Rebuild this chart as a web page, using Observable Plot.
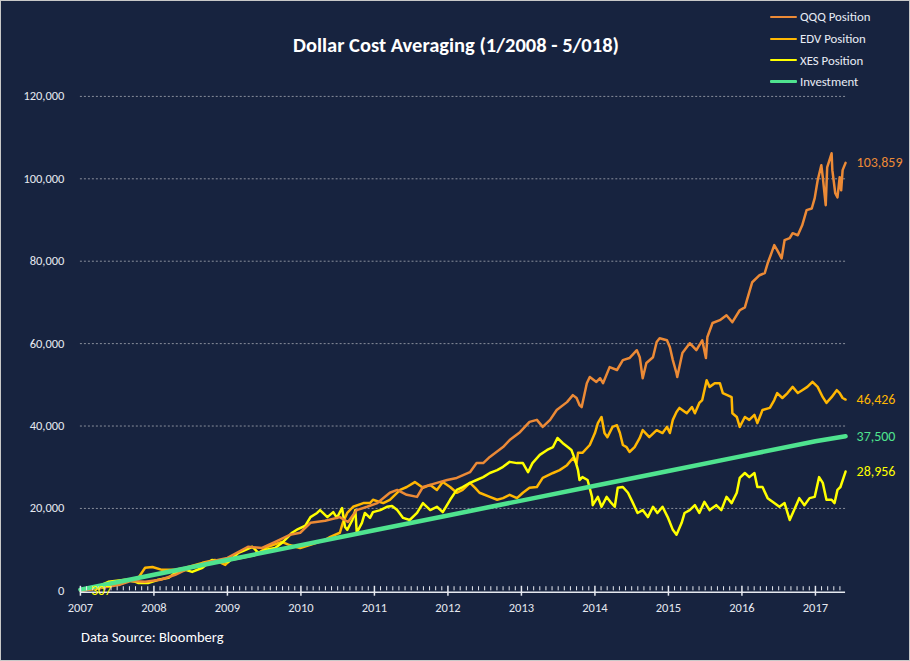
<!DOCTYPE html>
<html>
<head>
<meta charset="utf-8">
<script src="https://cdn.jsdelivr.net/npm/d3@7"></script>
<script src="https://cdn.jsdelivr.net/npm/@observablehq/plot@0.6"></script>
<style>
  html, body { margin: 0; padding: 0; background: #17233f; }
  #wrap { position: relative; width: 910px; height: 661px; box-sizing: border-box; border: 1px solid #c8c8c8; background: #17233f; overflow: hidden; font-family: Carlito, Lato, "Open Sans", sans-serif; }
  #chart { position: absolute; left: -1px; top: -1px; }
  #title { position: absolute; left: 0; width: 910px; top: 31px; text-align: center; color: #ffffff; font-weight: bold; font-size: 20.5px; }
  #legend { position: absolute; left: 769px; top: 5px; color: #e8ecf5; font-size: 12.8px; }
  .row { display: flex; align-items: center; height: 21.7px; }
  .sw { width: 27px; margin-right: 3px; border-radius: 1px; }
  #caption { position: absolute; left: 80px; top: 627px; color: #ffffff; font-size: 14.5px; }
</style>
</head>
<body>
<div id="wrap">
  <div id="chart"></div>
  <div id="title">Dollar Cost Averaging (1/2008 - 5/018)</div>
  <div id="legend"></div>
  <div id="caption">Data Source: Bloomberg</div>
</div>
<script>
// ---------- DATA (decimal year, dollars) ----------
const seriesNames = ["QQQ Position", "EDV Position", "XES Position", "Investment"];
const seriesColors = ["#ec8a36", "#ffb703", "#ffff00", "#4fe38f"];
const endLabels = ["103,859", "46,426", "28,956", "37,500"];
const yearTicks = [2007, 2008, 2009, 2010, 2011, 2012, 2013, 2014, 2015, 2016, 2017];
const yTicks = [0, 20000, 40000, 60000, 80000, 100000, 120000];
const startLabel = "307";

const qqq = [
[2007.00,0],[2007.27,700],[2007.54,1500],[2007.68,2400],[2007.88,2200],[2008.09,2700],[2008.29,3900],[2008.43,5100],
[2008.74,7000],[2009.00,8000],[2009.28,10700],[2009.47,10400],[2009.65,11900],[2009.85,13600],[2009.99,14100],
[2010.13,16500],[2010.33,17000],[2010.53,17900],[2010.64,16700],[2010.76,19600],[2010.90,20400],[2011.04,21300],
[2011.21,23800],[2011.31,24500],[2011.44,23300],[2011.58,22800],[2011.66,25200],[2011.85,26200],[2011.99,26900],
[2012.12,27400],[2012.30,28800],[2012.39,31000],[2012.48,31000],[2012.57,32500],[2012.75,34900],[2012.84,36600],
[2012.98,38500],[2013.11,41000],[2013.21,41500],[2013.29,39800],[2013.39,41500],[2013.48,43900],[2013.62,45800],
[2013.70,47500],[2013.75,46800],[2013.79,45100],[2013.82,44600],[2013.89,50400],[2013.93,51900],[2014.02,50700],
[2014.07,51600],[2014.11,50400],[2014.20,54300],[2014.30,53600],[2014.38,56000],[2014.47,56500],[2014.57,58400],
[2014.61,56700],[2014.65,51600],[2014.70,55300],[2014.79,56700],[2014.84,60400],[2014.88,61300],[2014.98,60800],
[2015.02,59100],[2015.06,56000],[2015.11,52800],[2015.12,51900],[2015.19,57700],[2015.29,60100],[2015.38,58400],
[2015.46,60800],[2015.51,56500],[2015.53,61600],[2015.60,65000],[2015.70,65700],[2015.79,66900],[2015.87,65200],
[2015.97,68100],[2016.04,68800],[2016.08,71300],[2016.14,74900],[2016.24,76600],[2016.31,77100],[2016.35,79500],
[2016.40,81900],[2016.44,83900],[2016.48,82700],[2016.54,80700],[2016.58,85100],[2016.65,85600],[2016.69,86800],
[2016.76,86300],[2016.82,88700],[2016.88,92400],[2016.95,92800],[2016.99,95300],[2017.03,99600],[2017.08,103300],
[2017.10,100400],[2017.14,93600],[2017.16,102800],[2017.22,106200],[2017.23,102100],[2017.27,96500],[2017.30,95500],
[2017.33,100400],[2017.35,97200],[2017.37,102100],[2017.41,103859]
];

const edv = [
[2007.00,0],[2007.27,700],[2007.54,1700],[2007.79,3200],[2007.88,5600],[2007.98,5800],[2008.11,5100],[2008.29,5100],
[2008.43,5600],[2008.66,6800],[2008.83,7500],[2008.97,6300],[2009.04,7500],[2009.20,8000],[2009.38,8700],[2009.55,10700],
[2009.74,11900],[2009.83,11200],[2009.99,10400],[2010.17,11400],[2010.33,12400],[2010.40,13100],[2010.53,14100],
[2010.57,16500],[2010.63,18900],[2010.71,20400],[2010.85,21300],[2010.94,21300],[2010.98,22100],[2011.12,21300],
[2011.21,22100],[2011.35,24500],[2011.44,25200],[2011.55,26400],[2011.66,25000],[2011.76,25700],[2011.85,24500],
[2011.93,26400],[2012.03,25200],[2012.12,23800],[2012.20,24500],[2012.30,26200],[2012.37,25000],[2012.43,23800],
[2012.57,22800],[2012.67,22100],[2012.75,22500],[2012.84,23300],[2012.94,22500],[2013.02,23800],[2013.11,25000],
[2013.21,25200],[2013.29,27400],[2013.43,28600],[2013.52,29300],[2013.62,30500],[2013.70,32200],[2013.75,31000],
[2013.77,33500],[2013.83,33500],[2013.93,35400],[2014.00,38300],[2014.04,40700],[2014.09,42200],[2014.13,38300],
[2014.17,37300],[2014.24,39800],[2014.30,40200],[2014.34,38300],[2014.38,35400],[2014.43,34900],[2014.47,33700],
[2014.54,34900],[2014.61,37100],[2014.65,39000],[2014.74,37300],[2014.84,39000],[2014.92,38300],[2014.98,39800],
[2015.02,38300],[2015.06,41500],[2015.11,43400],[2015.15,44400],[2015.25,43100],[2015.32,44600],[2015.36,43100],
[2015.42,45600],[2015.46,46300],[2015.52,51100],[2015.56,49500],[2015.63,50400],[2015.70,50400],[2015.74,48000],
[2015.86,47000],[2015.87,43100],[2015.93,42200],[2015.97,39800],[2016.04,42200],[2016.10,41500],[2016.17,42700],
[2016.21,40700],[2016.28,43900],[2016.38,44400],[2016.44,46300],[2016.48,48000],[2016.55,46800],[2016.62,48000],
[2016.69,49500],[2016.76,48000],[2016.82,48700],[2016.89,49500],[2016.96,50700],[2017.03,49500],[2017.10,47000],
[2017.15,45600],[2017.22,47000],[2017.29,48700],[2017.33,48000],[2017.37,46800],[2017.41,46426]
];

const xes = [
[2007.00,300],[2007.20,700],[2007.38,2200],[2007.61,2700],[2007.75,2200],[2007.79,1900],[2007.92,1900],[2008.06,2700],
[2008.20,3200],[2008.29,4400],[2008.43,5100],[2008.52,4600],[2008.66,5600],[2008.79,7500],[2008.88,7300],[2009.01,7000],
[2009.15,9200],[2009.24,9900],[2009.34,10700],[2009.42,9200],[2009.51,9900],[2009.65,10400],[2009.74,11600],
[2009.88,14100],[2009.96,15000],[2010.06,15800],[2010.13,17900],[2010.22,18900],[2010.26,19600],[2010.36,17900],
[2010.44,19100],[2010.49,17700],[2010.56,20100],[2010.60,15500],[2010.63,14800],[2010.70,17200],[2010.74,19600],
[2010.76,14100],[2010.83,16500],[2010.87,18900],[2010.94,17700],[2010.98,19100],[2011.08,19600],[2011.17,20400],
[2011.24,20600],[2011.31,19600],[2011.39,17700],[2011.48,17200],[2011.58,18900],[2011.66,21300],[2011.76,19600],
[2011.85,20400],[2011.93,19100],[2012.03,22100],[2012.12,24500],[2012.20,25200],[2012.30,26200],[2012.39,26900],
[2012.48,27600],[2012.57,28600],[2012.67,29300],[2012.75,30100],[2012.84,31300],[2012.94,31000],[2013.02,31000],
[2013.09,28800],[2013.15,31000],[2013.25,33000],[2013.35,34200],[2013.43,34900],[2013.49,37100],[2013.56,35900],
[2013.63,34900],[2013.68,34200],[2013.73,31800],[2013.77,29300],[2013.79,26900],[2013.83,27600],[2013.90,26900],
[2013.96,22800],[2013.97,20800],[2014.04,22800],[2014.09,20400],[2014.16,22800],[2014.21,21600],[2014.27,20400],
[2014.31,25000],[2014.38,25200],[2014.45,23800],[2014.51,21600],[2014.58,18900],[2014.65,19600],[2014.72,17900],
[2014.79,20400],[2014.85,18900],[2014.92,20400],[2014.99,17900],[2015.06,14800],[2015.11,13600],[2015.18,16500],
[2015.22,18900],[2015.29,19600],[2015.36,20800],[2015.42,18900],[2015.49,21600],[2015.56,19600],[2015.65,20800],
[2015.72,19600],[2015.79,22800],[2015.86,21300],[2015.93,23800],[2015.97,27400],[2016.04,28600],[2016.10,27600],
[2016.17,28600],[2016.21,25200],[2016.28,25200],[2016.35,22500],[2016.44,21300],[2016.51,20400],[2016.58,21300],
[2016.65,17200],[2016.71,19600],[2016.78,22500],[2016.85,20800],[2016.92,22500],[2016.99,22800],[2017.05,27600],
[2017.10,26200],[2017.15,22100],[2017.22,22100],[2017.26,21300],[2017.30,24500],[2017.34,25200],[2017.41,28956]
];

const investment = [
[2007.00,300],[2008.00,3900],[2009.00,7500],[2010.00,11100],[2011.00,14700],[2012.00,18300],[2013.00,21900],
[2014.00,25500],[2015.00,29100],[2016.00,32700],[2017.00,36300],[2017.41,37500]
];

// ---------- BUILD ----------
const all = [qqq, edv, xes, investment];
const xDomain = [2007, 2017.41];
const monthTicks = d3.range(0, 125).map(i => 2007 + i / 12).filter(t => !yearTicks.includes(Math.round(t * 1000) / 1000));
const ends = all.map((s, i) => ({x: s[s.length - 1][0], y: s[s.length - 1][1], label: endLabels[i], color: seriesColors[i]}));

const axisColor = "#e6e9f0";
const marks = [
  Plot.gridY(yTicks.filter(d => d > 0), {stroke: "#8a8f9c", strokeOpacity: 1, strokeDasharray: "2,2", strokeWidth: 1}),
  Plot.axisY(yTicks, {tickSize: 0, tickPadding: 16, tickFormat: d3.format(","), fill: axisColor, fontSize: 12.5, anchor: "left", label: null}),
  Plot.axisX(yearTicks, {tickSize: 0, tickPadding: 12, tickFormat: d => String(d), fill: axisColor, fontSize: 12.5, label: null}),
];
const widths = [2.5, 2.5, 2.5, 4.5];
[1, 2, 0, 3].forEach(i => {
  marks.push(Plot.line(all[i], {x: d => d[0], y: d => d[1], stroke: seriesColors[i], strokeWidth: widths[i], curve: "linear", strokeLinejoin: "round"}));
});
marks.push(
  Plot.ruleY([0], {stroke: axisColor, strokeWidth: 1.5, dy: 1.5}),
  Plot.ruleX(monthTicks, {x: d => d, y1: 0, y2: 1000, stroke: axisColor, strokeWidth: 1}),
  Plot.ruleX(yearTicks, {x: d => d, y1: -1300, y2: 1100, stroke: axisColor, strokeWidth: 1.5}),
  Plot.text(ends, {x: "x", y: "y", text: "label", fill: "color", dx: 11, textAnchor: "start", fontSize: 14}),
  Plot.text([startLabel], {x: xDomain[0], y: 0, text: d => d, fill: seriesColors[2], dx: 21, dy: 0, textAnchor: "middle", fontSize: 13.5})
);

const chart = Plot.plot({
  width: 910,
  height: 661,
  marginLeft: 80,
  marginRight: 64,
  marginTop: 96,
  marginBottom: 70,
  style: {background: "transparent", fontFamily: "Carlito, Lato, 'Open Sans', sans-serif", color: axisColor},
  x: {domain: xDomain, type: "linear"},
  y: {domain: [0, 120000]},
  marks
});
document.getElementById("chart").appendChild(chart);

// legend
const legend = document.getElementById("legend");
seriesNames.forEach((name, i) => {
  const row = document.createElement("div");
  row.className = "row";
  const sw = document.createElement("span");
  sw.className = "sw";
  sw.style.background = seriesColors[i];
  sw.style.height = i === 3 ? "3px" : "2px";
  const tx = document.createElement("span");
  tx.textContent = name;
  row.appendChild(sw);
  row.appendChild(tx);
  legend.appendChild(row);
});
</script>
</body>
</html>
